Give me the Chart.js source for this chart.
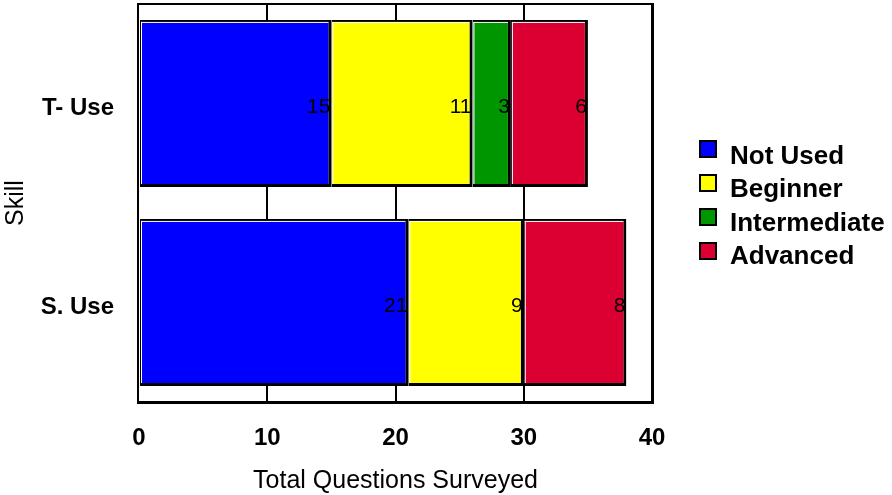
<!DOCTYPE html>
<html>
<head>
<meta charset="utf-8">
<script src="https://cdn.jsdelivr.net/npm/chart.js@4/dist/chart.umd.min.js"></script>
<style>
  html, body { margin: 0; padding: 0; background: #fff; }
  #wrap { width: 892px; height: 495px; }
</style>
</head>
<body>
<div id="wrap"><canvas id="skillChart" width="892" height="495"></canvas></div>
<script>
const skills = ['T- Use', 'S. Use'];
const levels = ['Not Used', 'Beginner', 'Intermediate', 'Advanced'];
const notUsed = [15, 21];
const beginner = [11, 9];
const intermediate = [3, 0];
const advanced = [6, 8];
const xTicks = [0, 10, 20, 30, 40];
const colors = ['#0000FF', '#FFFF00', '#009600', '#DC0032'];

const FONT = '"Liberation Sans", Arial, sans-serif';
const series = [notUsed, beginner, intermediate, advanced];

// frame round the plot area, thicker on right/bottom like a shadow
const frame = {
  id: 'frame',
  afterDatasetsDraw(chart) {
    const { ctx, chartArea: a } = chart;
    ctx.save();
    ctx.fillStyle = '#000';
    ctx.fillRect(a.left - 2, a.top - 1, a.right - a.left + 3, 2);
    ctx.fillRect(a.left - 2, a.top - 1, 2, a.bottom - a.top + 2);
    ctx.fillRect(a.right - 1, a.top - 1, 3, a.bottom - a.top + 3);
    ctx.fillRect(a.left - 2, a.bottom - 1, a.right - a.left + 4, 3);
    ctx.restore();
  }
};

// white inner highlight on top/left of each bar + value labels
const barDeco = {
  id: 'barDeco',
  afterDatasetsDraw(chart) {
    const { ctx } = chart;
    ctx.save();
    chart.data.datasets.forEach((ds, i) => {
      chart.getDatasetMeta(i).data.forEach((bar, j) => {
        const v = ds.data[j];
        if (!v) return;
        const l = Math.min(bar.x, bar.base), r = Math.max(bar.x, bar.base);
        const t = bar.y - bar.height / 2, b = bar.y + bar.height / 2;
        ctx.strokeStyle = '#fff';
        ctx.lineWidth = 1;
        ctx.beginPath();
        ctx.moveTo(l + 1, t + 2.5); ctx.lineTo(r - 3, t + 2.5);
        ctx.moveTo(l + 1.5, t + 2); ctx.lineTo(l + 1.5, b - 3);
        ctx.stroke();
        ctx.fillStyle = '#000';
        ctx.font = '21px ' + FONT;
        ctx.textAlign = 'right';
        ctx.textBaseline = 'middle';
        ctx.fillText(String(v), r - 1, bar.y + 4);
      });
    });
    ctx.restore();
  }
};

// legend on the right
const sideLegend = {
  id: 'sideLegend',
  afterDraw(chart) {
    const { ctx } = chart;
    ctx.save();
    chart.data.datasets.forEach((ds, i) => {
      const top = 141 + i * 34;
      ctx.fillStyle = ds.backgroundColor;
      ctx.fillRect(700, top, 16, 16);
      ctx.strokeStyle = '#000';
      ctx.lineWidth = 2;
      ctx.strokeRect(700, top, 16, 16);
      ctx.fillStyle = '#000';
      ctx.font = 'bold 26px ' + FONT;
      ctx.textAlign = 'left';
      ctx.textBaseline = 'middle';
      ctx.fillText(ds.label, 730, top + 16 + i * -0.7);
    });
    ctx.restore();
  }
};

new Chart(document.getElementById('skillChart'), {
  type: 'bar',
  data: {
    labels: skills,
    datasets: levels.map((name, i) => ({
      label: name,
      data: series[i],
      backgroundColor: colors[i],
      borderColor: '#000',
      borderWidth: { top: 2, right: 3, bottom: 3, left: 1 },
      borderSkipped: false,
      inflateAmount: 0,
      barPercentage: 1,
      categoryPercentage: 0.84
    }))
  },
  options: {
    indexAxis: 'y',
    responsive: false,
    animation: false,
    layout: { padding: { top: 4, right: 240, left: 0, bottom: 0 } },
    plugins: {
      legend: { display: false },
      tooltip: { enabled: false }
    },
    scales: {
      x: {
        stacked: true,
        min: xTicks[0],
        max: xTicks[xTicks.length - 1],
        afterBuildTicks: s => { s.ticks = xTicks.map(v => ({ value: v })); },
        afterFit: s => { s.height = 93; s.paddingLeft = 0; s.paddingRight = 0; },
        border: { display: false },
        grid: {
          color: ctx => (ctx.tick && (ctx.tick.value === 0 || ctx.tick.value === 40)) ? 'rgba(0,0,0,0)' : '#000',
          lineWidth: 2,
          drawTicks: false
        },
        ticks: {
          color: '#000',
          padding: 22,
          font: { family: FONT, size: 24, weight: 'bold' }
        },
        title: {
          display: true,
          text: 'Total Questions Surveyed',
          color: '#000',
          padding: 0,
          font: { family: FONT, size: 25, lineHeight: 1.1 }
        }
      },
      y: {
        stacked: true,
        afterFit: s => { s.width = 139; s.paddingTop = 0; s.paddingBottom = 0; },
        border: { display: false },
        grid: { display: false, drawTicks: false },
        ticks: {
          color: '#000',
          padding: 25,
          labelOffset: 5,
          font: { family: FONT, size: 24, weight: 'bold' }
        },
        title: {
          display: true,
          text: 'Skill',
          color: '#000',
          padding: { top: 1, bottom: 0 },
          font: { family: FONT, size: 25 }
        }
      }
    }
  },
  plugins: [frame, barDeco, sideLegend]
});
</script>
</body>
</html>
